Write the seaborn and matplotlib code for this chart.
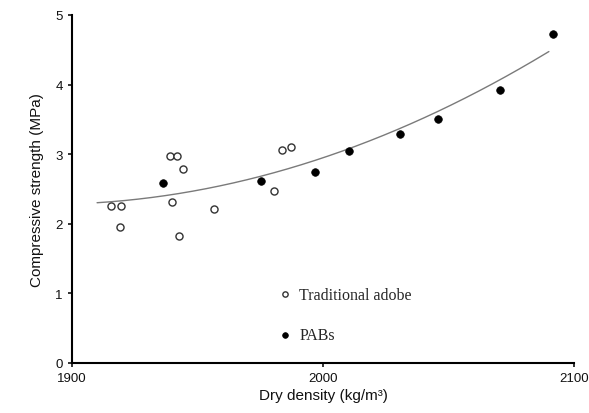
import numpy as np
import pandas as pd
import matplotlib
matplotlib.use("Agg")
import matplotlib.pyplot as plt
import seaborn as sns

# Dry density (kg/m3) and compressive strength (MPa)
adobe_density = [1915.4, 1919.7, 1919.1, 1939.0, 1942.0, 1944.2, 1939.7, 1942.7, 1956.6, 1980.6, 1983.5, 1987.1]
adobe_strength = [2.26, 2.25, 1.95, 2.97, 2.97, 2.79, 2.31, 1.82, 2.21, 2.47, 3.06, 3.10]
pab_density = [1936.4, 1975.3, 1996.8, 2010.2, 2030.5, 2045.7, 2070.4, 2091.8]
pab_strength = [2.59, 2.62, 2.74, 3.04, 3.29, 3.50, 3.92, 4.72]

x_ticks = [1900, 2000, 2100]
y_ticks = [0, 1, 2, 3, 4, 5]

sns.set_style("white")
plt.rcParams["font.family"] = ["Liberation Sans", "DejaVu Sans"]

adobe = pd.DataFrame({"density": adobe_density, "strength": adobe_strength})
pab = pd.DataFrame({"density": pab_density, "strength": pab_strength})
both = pd.concat([adobe, pab], ignore_index=True)

# Second-order trend through all specimens
coef = np.polyfit(both["density"], both["strength"], 2)
xs = np.linspace(1910, 2090, 200)
trend = pd.DataFrame({"density": xs, "strength": np.polyval(coef, xs)})

fig = plt.figure(figsize=(5.89, 4.14), dpi=100)
ax = fig.add_axes([0.1222, 0.1208, 0.8523, 0.8406])

sns.lineplot(data=trend, x="density", y="strength", ax=ax, color="#7a7a7a", linewidth=1.0)
sns.scatterplot(data=adobe, x="density", y="strength", ax=ax, marker="o", s=26,
                facecolor="white", edgecolor="#333333", linewidth=1.0, label="Traditional adobe", zorder=3)
sns.scatterplot(data=pab, x="density", y="strength", ax=ax, marker="o", s=30,
                color="black", edgecolor="black", linewidth=0.5, label="PABs", zorder=3)

ax.set_xlim(1900, 2100)
ax.set_ylim(0, 5)
ax.set_xticks(x_ticks)
ax.set_yticks(y_ticks)
ax.set_xlabel("Dry density (kg/m³)", fontsize=11, color="#111111", labelpad=3)
ax.set_ylabel("Compressive strength (MPa)", fontsize=11, color="#111111", labelpad=8)
ax.tick_params(axis="both", labelsize=9.5, colors="#111111", direction="out", length=3, width=1.2,
               left=True, bottom=True)

for side in ["top", "right"]:
    ax.spines[side].set_visible(False)
for side in ["left", "bottom"]:
    ax.spines[side].set_color("black")
    ax.spines[side].set_linewidth(1.5)

leg = ax.legend(loc="upper left", bbox_to_anchor=(0.392, 0.238), frameon=False,
                prop={"family": ["Liberation Serif"], "size": 11.5}, labelspacing=1.55,
                handlelength=1.2, handletextpad=0.3, markerscale=0.75, borderaxespad=0)

fig.savefig("out.png", dpi=100)
